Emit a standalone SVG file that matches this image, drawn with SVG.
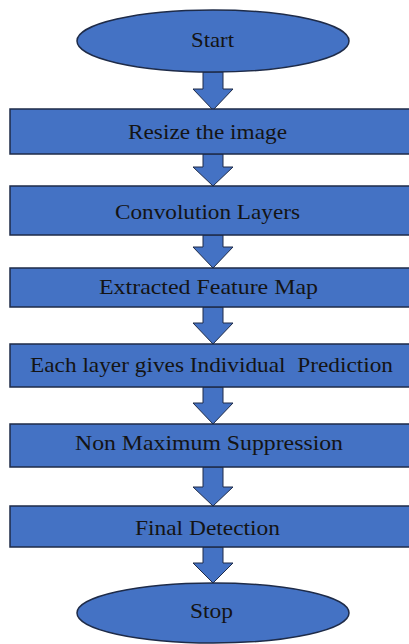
<svg xmlns="http://www.w3.org/2000/svg" width="409" height="644" viewBox="0 0 409 644">
  <style>
    .shape { fill: #4472c4; stroke: #1e2b48; stroke-width: 1.5; }
    .arrow { fill: #4472c4; stroke: #1e2b48; stroke-width: 1; stroke-linejoin: miter; }
    .label { font-family: "Liberation Serif", "Times New Roman", serif; font-size: 21px; fill: #141414; text-anchor: middle; }
  </style>
  <rect width="409" height="644" fill="#ffffff"/>

  <!-- block arrows between steps -->
  <g id="connectors">
    <polygon class="arrow" points="203,72 223,72 223,89 233,89 213,110 193,89 203,89"/>
    <polygon class="arrow" points="203,154 223,154 223,167 233,167 213,186 193,167 203,167"/>
    <polygon class="arrow" points="203,235 223,235 223,247 233,247 213,268 193,247 203,247"/>
    <polygon class="arrow" points="203,307 223,307 223,323 233,323 213,344 193,323 203,323"/>
    <polygon class="arrow" points="203,387 223,387 223,403 233,403 213,424 193,403 203,403"/>
    <polygon class="arrow" points="203,467 223,467 223,487 233,487 213,506 193,487 203,487"/>
    <polygon class="arrow" points="203,547 223,547 223,563 233,563 213,583 193,563 203,563"/>
  </g>

  <g id="start">
    <ellipse class="shape" cx="213" cy="41" rx="136" ry="31"/>
    <text class="label" x="212.5" y="47" textLength="43" lengthAdjust="spacingAndGlyphs">Start</text>
  </g>

  <g id="resize">
    <rect class="shape" x="10" y="109" width="404" height="45"/>
    <text class="label" x="207.5" y="139" textLength="159" lengthAdjust="spacingAndGlyphs">Resize the image</text>
  </g>

  <g id="convolution">
    <rect class="shape" x="10" y="186" width="404" height="49"/>
    <text class="label" x="207.5" y="219" textLength="185" lengthAdjust="spacingAndGlyphs">Convolution Layers</text>
  </g>

  <g id="feature-map">
    <rect class="shape" x="10" y="268" width="404" height="39"/>
    <text class="label" x="208.5" y="294" textLength="219" lengthAdjust="spacingAndGlyphs">Extracted Feature Map</text>
  </g>

  <g id="prediction">
    <rect class="shape" x="10" y="344" width="404" height="43"/>
    <text class="label" x="211.5" y="372" textLength="363" lengthAdjust="spacingAndGlyphs" xml:space="preserve">Each layer gives Individual  Prediction</text>
  </g>

  <g id="nms">
    <rect class="shape" x="10" y="424" width="404" height="43"/>
    <text class="label" x="209" y="450" textLength="268" lengthAdjust="spacingAndGlyphs">Non Maximum Suppression</text>
  </g>

  <g id="final-detection">
    <rect class="shape" x="10" y="506" width="404" height="41"/>
    <text class="label" x="207.5" y="535" textLength="145" lengthAdjust="spacingAndGlyphs">Final Detection</text>
  </g>

  <g id="stop">
    <ellipse class="shape" cx="213" cy="613" rx="136" ry="30"/>
    <text class="label" x="211.5" y="618" textLength="43" lengthAdjust="spacingAndGlyphs">Stop</text>
  </g>
</svg>
